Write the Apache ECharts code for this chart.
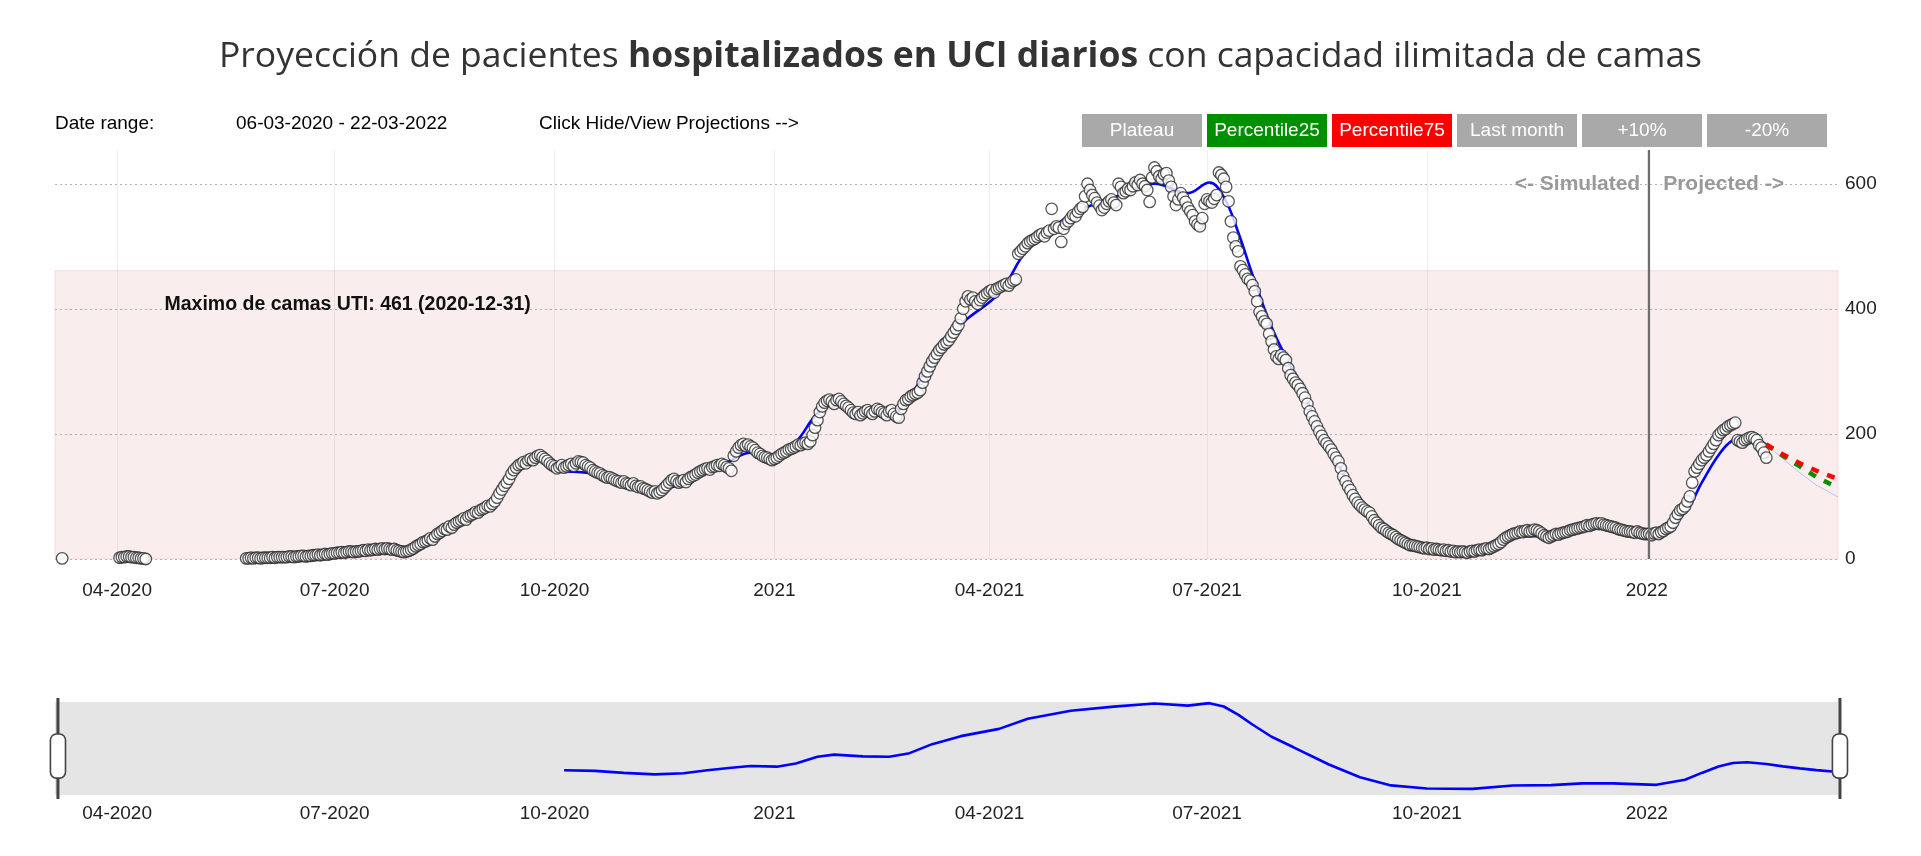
<!DOCTYPE html>
<html>
<head>
<meta charset="utf-8">
<title>Proyección de pacientes hospitalizados en UCI</title>
<script src="https://cdn.jsdelivr.net/npm/echarts@6.0.0/dist/echarts.min.js"></script>
<style>
  html, body { margin: 0; padding: 0; background: #fff; }
  #chart-root { width: 1921px; height: 856px; }
</style>
</head>
<body>
<div id="chart-root"></div>
<script>
// rango del eje x
const xMin = '2020-03-06'
const xMax = '2022-03-22'
const tickDates = ['2020-04-01', '2020-07-01', '2020-10-01', '2021-01-01', '2021-04-01', '2021-07-01', '2021-10-01', '2022-01-01']
const tickLabels = ['04-2020', '07-2020', '10-2020', '2021', '04-2021', '07-2021', '10-2021', '2022']

// capacidad maxima de camas
const maxBeds = 461
const maxBedsDate = '2020-12-31'
const simDate = '2022-01-02'

// pacientes observados por dia (cada lista empieza en la fecha indicada)
const obsMar20 = [1]
const obsApr20 = [2, 3, 3, 4, 4, 3, 3, 2, 2, 1, 1, 0]
const obsMay20 = [1, 1, 2, 1, 2, 2, 1]
const obsJun20 = [2, 2, 2, 2, 3, 2, 3, 3, 3, 3, 3, 4, 4, 3, 4, 4, 5, 5, 4, 5, 5, 6, 6, 7, 6, 7, 8, 7, 8, 9]
const obsJul20 = [9, 10, 10, 11, 10, 11, 12, 12, 11, 12, 12, 13, 14, 13, 15, 14, 15, 16, 15, 16, 17, 16, 17, 16, 15, 16, 14, 13, 12, 11, 12]
const obsAug20 = [13, 15, 17, 20, 22, 24, 27, 28, 30, 33, 31, 36, 40, 42, 45, 48, 47, 52, 50, 55, 58, 60, 62, 65, 63, 68, 70, 72, 75, 74, 78]
const obsSep20 = [80, 82, 85, 84, 88, 92, 98, 105, 111, 117, 122, 128, 136, 142, 146, 150, 152, 155, 153, 158, 160, 158, 162, 165, 166, 163, 160, 157, 153, 150]
const obsOct20 = [148, 145, 147, 150, 146, 148, 150, 152, 149, 153, 156, 155, 154, 150, 148, 146, 142, 140, 138, 137, 134, 132, 130, 131, 129, 127, 125, 124, 122, 124, 121]
const obsNov20 = [120, 118, 121, 117, 115, 116, 113, 112, 110, 108, 106, 108, 105, 107, 110, 114, 118, 122, 126, 128, 125, 122, 124, 126, 123, 128, 131, 133, 135, 138]
const obsDec20 = [140, 142, 144, 145, 143, 147, 148, 150, 149, 152, 150, 147, 145, 141, 165, 172, 178, 182, 184, 181, 183, 180, 178, 174, 170, 168, 165, 163, 162, 160, 158]
const obsJan21 = [160, 162, 165, 168, 170, 172, 175, 176, 178, 180, 183, 182, 185, 186, 184, 188, 198, 210, 222, 235, 244, 250, 253, 255, 252, 248, 254, 256, 252, 248, 245]
const obsFeb21 = [242, 238, 234, 232, 235, 230, 233, 236, 238, 235, 232, 236, 240, 238, 235, 233, 230, 236, 238, 232, 228, 226, 240, 248, 254, 256, 260, 262]
const obsMar21 = [264, 266, 270, 282, 292, 300, 308, 316, 322, 328, 334, 338, 343, 346, 350, 356, 362, 368, 374, 385, 400, 412, 420, 415, 418, 412, 408, 414, 418, 422, 425]
const obsApr21 = [428, 430, 426, 432, 434, 436, 438, 440, 437, 442, 445, 447, 488, 492, 496, 500, 505, 508, 510, 512, 515, 518, 520, 516, 522, 525, 560, 528, 532, 530]
const obsMay21 = [507, 528, 536, 540, 545, 550, 548, 555, 560, 563, 580, 600, 590, 582, 577, 570, 565, 558, 562, 568, 572, 575, 570, 566, 600, 595, 585, 588, 592, 590, 596]
const obsJun21 = [602, 598, 606, 600, 596, 590, 571, 610, 626, 620, 612, 608, 615, 617, 605, 595, 580, 566, 575, 585, 578, 571, 562, 556, 550, 540, 535, 532, 545, 568]
const obsJul21 = [575, 572, 570, 576, 582, 618, 614, 608, 595, 572, 540, 514, 500, 492, 468, 462, 455, 448, 445, 438, 428, 412, 395, 388, 380, 376, 360, 348, 335, 324, 320]
const obsAug21 = [326, 322, 318, 305, 294, 288, 282, 278, 272, 265, 258, 248, 236, 228, 220, 212, 204, 197, 190, 185, 180, 175, 168, 162, 156, 145, 132, 124, 116, 110, 102]
const obsSep21 = [96, 90, 86, 82, 79, 76, 74, 68, 62, 58, 54, 50, 48, 45, 42, 40, 38, 35, 32, 30, 28, 26, 24, 22, 22, 21, 20, 19, 18, 17]
const obsOct21 = [18, 16, 17, 15, 16, 15, 14, 15, 13, 14, 12, 13, 11, 12, 11, 12, 11, 10, 12, 13, 12, 14, 15, 14, 16, 17, 16, 18, 20, 22, 24]
const obsNov21 = [27, 31, 34, 36, 38, 40, 41, 42, 44, 43, 45, 46, 44, 45, 47, 46, 44, 41, 38, 36, 34, 36, 38, 40, 39, 41, 42, 43, 44, 46]
const obsDec21 = [47, 48, 49, 50, 51, 52, 54, 53, 55, 56, 57, 56, 57, 55, 54, 53, 52, 51, 50, 48, 47, 46, 45, 44, 44, 43, 42, 44, 42, 41, 40]
const obsJan22 = [40, 40, 38, 41, 42, 40, 43, 45, 48, 50, 52, 58, 66, 72, 78, 80, 84, 92, 100, 122, 140, 146, 152, 158, 162, 166, 172, 178, 184, 190, 198]
const obsFeb22 = [202, 206, 208, 212, 214, 216, 218, 190, 188, 186, 190, 192, 194, 195, 193, 190, 182, 178, 170, 162]

const obsSegments = [
  ['2020-03-09', obsMar20], ['2020-04-02', obsApr20], ['2020-05-25', obsMay20],
  ['2020-06-01', obsJun20], ['2020-07-01', obsJul20], ['2020-08-01', obsAug20],
  ['2020-09-01', obsSep20], ['2020-10-01', obsOct20], ['2020-11-01', obsNov20],
  ['2020-12-01', obsDec20], ['2021-01-01', obsJan21], ['2021-02-01', obsFeb21],
  ['2021-03-01', obsMar21], ['2021-04-01', obsApr21], ['2021-05-01', obsMay21],
  ['2021-06-01', obsJun21], ['2021-07-01', obsJul21], ['2021-08-01', obsAug21],
  ['2021-09-01', obsSep21], ['2021-10-01', obsOct21], ['2021-11-01', obsNov21],
  ['2021-12-01', obsDec21], ['2022-01-01', obsJan22], ['2022-02-01', obsFeb22]
]

// curva suavizada (simulada)
const smoothDates = ['2020-10-05', '2020-10-18', '2020-10-30', '2020-11-12', '2020-11-24', '2020-12-04', '2020-12-14', '2020-12-22',
  '2021-01-02', '2021-01-10', '2021-01-19', '2021-01-26', '2021-02-07', '2021-02-18', '2021-02-26', '2021-03-08', '2021-03-20',
  '2021-04-05', '2021-04-17', '2021-05-05', '2021-05-23', '2021-06-09', '2021-06-23', '2021-07-02', '2021-07-08', '2021-07-14',
  '2021-07-20', '2021-07-28', '2021-08-06', '2021-08-21', '2021-09-03', '2021-09-16', '2021-10-01', '2021-10-20', '2021-11-06',
  '2021-11-22', '2021-12-05', '2021-12-18', '2022-01-05', '2022-01-17', '2022-01-24', '2022-01-31', '2022-02-06', '2022-02-12', '2022-02-20']
const smoothValues = [140, 136, 122, 112, 120, 140, 158, 170, 165, 187, 233, 248, 236, 233, 255, 320, 375, 425, 495, 550,
  578, 600, 585, 602, 579, 523, 455, 371, 300, 180, 92, 36, 15, 12, 35, 38, 50, 50, 40, 75, 122, 166, 190, 195, 183]

// proyecciones
const projDates = ['2022-02-20', '2022-02-27', '2022-03-06', '2022-03-13', '2022-03-22']
const p75Values = [183, 167, 153, 141, 128]
const p25Values = [183, 165, 148, 131, 114]
const bandUpper = [183, 175, 168, 161, 155]
const bandLower = [183, 160, 138, 118, 99]

// botones
const btnLabels = ['Plateau', 'Percentile25', 'Percentile75', 'Last month', '+10%', '-20%']
const btnColors = ['#a9a9a9', '#008f00', '#ff0000', '#a9a9a9', '#a9a9a9', '#a9a9a9']

const FONT = '"Liberation Sans", Arial, sans-serif'

// fechas como milisegundos UTC
function ts (str, n) {
  const [y, m, d] = str.split('-').map(Number)
  return Date.UTC(y, m - 1, d + (n || 0))
}

let obsData = []
obsSegments.forEach(([start, vals]) => {
  vals.forEach((v, i) => obsData.push([ts(start, i), v]))
})
let smoothData = smoothDates.map((d, i) => [ts(d), smoothValues[i]])
let p75Data = projDates.map((d, i) => [ts(d), p75Values[i]])
let p25Data = projDates.map((d, i) => [ts(d), p25Values[i]])
let bandLowData = projDates.map((d, i) => [ts(d), bandLower[i]])
let bandDiffData = projDates.map((d, i) => [ts(d), bandUpper[i] - bandLower[i]])
let rangeData = smoothData.concat(p75Data.slice(1))

let tickTs = tickDates.map(d => ts(d))
function tickFormatter (value) {
  let i = tickTs.indexOf(value)
  return i >= 0 ? tickLabels[i] : ''
}

let chart = window.echarts.init(document.getElementById('chart-root'))

let dateAxis = {
  type: 'value',
  min: ts(xMin),
  max: ts(xMax),
  axisLine: { show: false },
  axisTick: { show: false, customValues: tickTs },
  axisLabel: { customValues: tickTs, formatter: tickFormatter, color: '#222', fontSize: 19 }
}

let option = {
  animation: false,
  textStyle: { fontFamily: FONT },
  title: [
    {
      text: '{n|Proyección de pacientes }{b|hospitalizados en UCI diarios}{n| con capacidad ilimitada de camas}',
      left: 'center',
      top: 39,
      padding: 0,
      textStyle: {
        rich: {
          n: { fontFamily: 'Open Sans', fontSize: 35.5, color: '#333', fontWeight: 'normal' },
          b: { fontFamily: 'Open Sans', fontSize: 35.5, color: '#333', fontWeight: 'bold' }
        }
      }
    },
    { text: 'Date range:', left: 55, top: 114, padding: 0, textStyle: { fontFamily: FONT, fontSize: 19, fontWeight: 'normal', color: '#000' } },
    { text: '06-03-2020 - 22-03-2022', left: 236, top: 114, padding: 0, textStyle: { fontFamily: FONT, fontSize: 19, fontWeight: 'normal', color: '#000' } },
    { text: 'Click Hide/View Projections -->', left: 539, top: 114, padding: 0, textStyle: { fontFamily: FONT, fontSize: 19, fontWeight: 'normal', color: '#000' } }
  ],
  graphic: btnLabels.map((label, i) => ({
    type: 'group',
    left: 1082 + i * 125,
    top: 114,
    children: [
      { type: 'rect', shape: { x: 0, y: 0, width: 120, height: 33 }, style: { fill: btnColors[i] } },
      {
        type: 'text', x: 60, y: 17,
        style: { text: label, fill: '#fff', font: '19px ' + FONT, align: 'center', verticalAlign: 'middle' }
      }
    ]
  })),
  grid: [
    { left: 55, right: 83, top: 150, height: 409 },
    { left: 55, right: 83, top: 702, height: 93, show: true, backgroundColor: '#e5e5e5', borderWidth: 0 }
  ],
  xAxis: [
    Object.assign({}, dateAxis, {
      gridIndex: 0,
      axisLabel: Object.assign({}, dateAxis.axisLabel, { margin: 22 }),
      splitLine: { show: true, lineStyle: { color: '#efefef', width: 1 } }
    }),
    Object.assign({}, dateAxis, {
      gridIndex: 1,
      axisLabel: Object.assign({}, dateAxis.axisLabel, { margin: 9 }),
      splitLine: { show: false }
    })
  ],
  yAxis: [
    {
      type: 'value',
      gridIndex: 0,
      position: 'right',
      min: 0,
      max: 654,
      interval: 200,
      axisLine: { show: false },
      axisTick: { show: false },
      axisLabel: { color: '#222', fontSize: 19, margin: 7, showMaxLabel: false },
      splitLine: { showMaxLine: false, lineStyle: { color: '#b4b4b4', type: [2, 3], width: 1 } }
    },
    {
      type: 'value',
      gridIndex: 1,
      min: -30,
      max: 610,
      show: false,
      splitLine: { show: false }
    }
  ],
  dataZoom: [
    {
      type: 'slider',
      xAxisIndex: [0, 1],
      filterMode: 'none',
      start: 0,
      end: 100,
      left: 56,
      right: 81,
      top: 702,
      height: 93,
      backgroundColor: 'rgba(0,0,0,0)',
      fillerColor: 'rgba(0,0,0,0)',
      borderColor: 'transparent',
      showDataShadow: false,
      showDetail: false,
      brushSelect: false,
      moveHandleSize: 0,
      handleIcon: 'path://M6.8,0h1.4v20h-1.4z M6.8,64h1.4v35h-1.4z M0,26a6,6 0 0 1 6,-6h3a6,6 0 0 1 6,6v32a6,6 0 0 1 -6,6h-3a6,6 0 0 1 -6,-6z',
      handleSize: '107%',
      handleStyle: { color: '#fff', borderColor: '#444', borderWidth: 1.6 },
      emphasis: { handleStyle: { color: '#fff', borderColor: '#444', borderWidth: 1.6 } }
    }
  ],
  series: [
    {
      name: 'bandBase',
      type: 'line',
      stack: 'band',
      data: bandLowData,
      symbol: 'none',
      lineStyle: { width: 1, color: 'rgba(130,130,255,0.45)' },
      z: 1,
      markArea: {
        silent: true,
        itemStyle: { color: 'rgba(215,130,130,0.14)', borderColor: 'rgba(235,170,170,0.35)', borderWidth: 1 },
        label: {
          show: true,
          position: [110, 24],
          color: '#111',
          fontSize: 19.5,
          fontWeight: 'bold',
          fontFamily: FONT,
          formatter: `Maximo de camas UTI: ${maxBeds} (${maxBedsDate})`
        },
        data: [[{ yAxis: 0 }, { yAxis: maxBeds }]]
      }
    },
    {
      name: 'band',
      type: 'line',
      stack: 'band',
      data: bandDiffData,
      symbol: 'none',
      lineStyle: { width: 1, color: 'rgba(130,130,255,0.45)' },
      areaStyle: { color: 'rgba(130,130,255,0.28)' },
      z: 1
    },
    {
      name: 'Simulado',
      type: 'line',
      data: smoothData,
      smooth: 0.4,
      symbol: 'none',
      lineStyle: { color: '#0000ff', width: 2.6 },
      itemStyle: { color: '#0000ff' },
      z: 2
    },
    {
      name: 'Observado',
      type: 'scatter',
      data: obsData,
      symbol: 'circle',
      symbolSize: 11.5,
      itemStyle: { color: '#fff', borderColor: '#2a2a2a', borderWidth: 1.3 },
      z: 3
    },
    {
      name: 'Percentile25',
      type: 'line',
      data: p25Data,
      symbol: 'none',
      lineStyle: { color: '#008f00', width: 4.5, type: [8, 9] },
      z: 4
    },
    {
      name: 'Percentile75',
      type: 'line',
      data: p75Data,
      symbol: 'none',
      lineStyle: { color: '#ff0000', width: 4.5, type: [8, 9] },
      z: 5,
      markLine: {
        silent: true,
        symbol: 'none',
        lineStyle: { color: '#6e6e6e', width: 2.2, type: 'solid' },
        label: { show: false },
        data: [{ xAxis: ts(simDate) }]
      },
      markPoint: {
        silent: true,
        symbolSize: 0,
        label: { show: true, color: '#999', fontSize: 21, fontWeight: 'bold', fontFamily: FONT },
        data: [
          { coord: [ts(simDate), 600], label: { position: 'left', distance: 9, formatter: '<- Simulated' } },
          { coord: [ts(simDate), 600], label: { position: 'right', distance: 14, formatter: 'Projected ->' } }
        ]
      }
    },
    {
      name: 'rango',
      type: 'line',
      xAxisIndex: 1,
      yAxisIndex: 1,
      data: rangeData,
      symbol: 'none',
      lineStyle: { color: '#0000ff', width: 2.6 },
      z: 2
    }
  ]
}

chart.setOption(option)
</script>
</body>
</html>
